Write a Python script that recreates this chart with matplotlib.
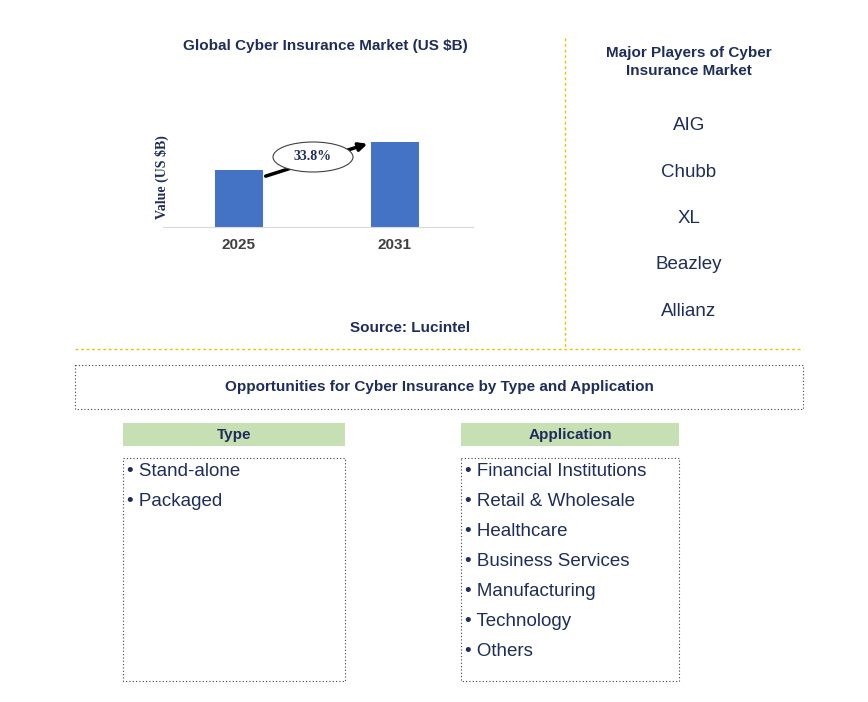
import matplotlib.pyplot as plt
from matplotlib.patches import Rectangle, Ellipse

years = ["2025", "2031"]
values = [57, 85]
cagr = "33.8%"
players = ["AIG", "Chubb", "XL", "Beazley", "Allianz"]
types = ["Stand-alone", "Packaged"]
applications = ["Financial Institutions", "Retail & Wholesale", "Healthcare",
                "Business Services", "Manufacturing", "Technology", "Others"]

NAVY = "#1f2d5a"
W, H = 868, 702
plt.rcParams["font.family"] = "Liberation Sans"

fig = plt.figure(figsize=(W / 100, H / 100), dpi=100)
bg = fig.add_axes([0, 0, 1, 1])
bg.set_xlim(0, W)
bg.set_ylim(H, 0)
bg.axis("off")

# bar chart
ax = fig.add_axes([163 / W, (H - 227) / H, 310 / W, 100 / H])
x = list(range(len(years)))
ax.bar(x, values, width=0.31, color="#4472c4")
ax.set_xlim(-0.487, 1.5)
ax.set_ylim(0, 100)
ax.set_yticks([])
ax.set_xticks(x)
ax.set_xticklabels(years, fontsize=11, fontweight="bold", color="#404040")
ax.tick_params(axis="x", length=0, pad=8)
for s in ["top", "right", "left"]:
    ax.spines[s].set_visible(False)
ax.spines["bottom"].set_color("#d9d9d9")
ax.set_ylabel("Value (US $B)", fontsize=10, fontweight="bold", color=NAVY, family="Liberation Serif")
ax.yaxis.set_label_coords(0.02, 0.5)
ax.patch.set_alpha(0)

# growth arrow + label on an overlay so the ellipse sits above the arrow
ov = fig.add_axes([0, 0, 1, 1])
ov.set_xlim(0, W)
ov.set_ylim(H, 0)
ov.axis("off")
ov.annotate("", xy=(370, 143), xytext=(263, 177), zorder=1,
            arrowprops=dict(arrowstyle="-|>", lw=2.5, color="black", mutation_scale=12))
ov.add_patch(Ellipse((313, 157), 80, 30, facecolor="white", edgecolor="#404040", lw=0.8, zorder=3))
ov.text(313, 157, cagr, ha="center", va="center", fontsize=10, fontweight="bold", color=NAVY,
        family="Liberation Serif", zorder=4)

bg.text(325, 46, "Global Cyber Insurance Market (US $B)", ha="center", va="center",
        fontsize=11, fontweight="bold", color=NAVY)
bg.text(410, 328, "Source: Lucintel", ha="center", va="center",
        fontsize=11, fontweight="bold", color=NAVY)

# players
bg.text(689, 62, "Major Players of Cyber\nInsurance Market", ha="center", va="center",
        fontsize=11, fontweight="bold", color=NAVY, linespacing=1.3)
for i, p in enumerate(players):
    bg.text(689, 126 + i * 46.3, p, ha="center", va="center", fontsize=13.5, color=NAVY)

# separators
bg.plot([565, 565], [38, 348], color="#f0c000", lw=1, ls=(0, (2, 2)))
bg.plot([75, 803], [349, 349], color="#f0c000", lw=1, ls=(0, (2, 2)))

# opportunities box
bg.add_patch(Rectangle((75, 365), 728, 44, fill=False, edgecolor="#404040", lw=0.8, ls=(0, (1, 2))))
bg.text(439, 387, "Opportunities for Cyber Insurance by Type and Application", ha="center",
        va="center", fontsize=11, fontweight="bold", color=NAVY)


def column(x0, width, title, items):
    bg.add_patch(Rectangle((x0, 423), width, 23, facecolor="#c6e0b4", edgecolor="none"))
    bg.text(x0 + width / 2, 434.5, title, ha="center", va="center", fontsize=11,
            fontweight="bold", color=NAVY)
    bg.add_patch(Rectangle((x0, 458), width, 223, fill=False, edgecolor="#404040", lw=0.8,
                           ls=(0, (1, 2))))
    for i, it in enumerate(items):
        bg.text(x0 + 4, 471 + i * 30, "• " + it, ha="left", va="center", fontsize=13.5, color=NAVY)


column(123, 222, "Type", types)
column(461, 218, "Application", applications)

fig.savefig("out.png", dpi=100)
